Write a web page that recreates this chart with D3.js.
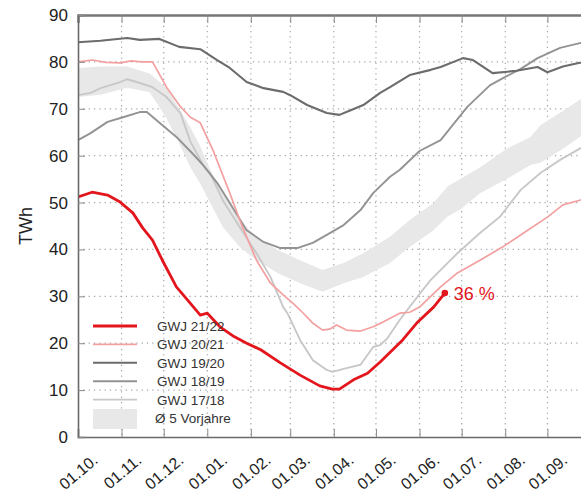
<!DOCTYPE html>
<html>
<head>
<meta charset="utf-8">
<script src="https://cdn.jsdelivr.net/npm/d3@7"></script>
<style>
  body { margin: 0; background: #fff; }
  text { font-family: "Liberation Sans", Arial, sans-serif; }
</style>
</head>
<body>
<svg id="chart" width="581" height="491"></svg>
<script>
// days since 01.10., storage in TWh
const monthTicks = [0, 31, 61, 92, 123, 151, 182, 212, 243, 273, 304, 334];
const monthLabels = ["01.10.", "01.11.", "01.12.", "01.01.", "01.02.", "01.03.",
                     "01.04.", "01.05.", "01.06.", "01.07.", "01.08.", "01.09."];
const yTicks = [0, 10, 20, 30, 40, 50, 60, 70, 80, 90];

const gwj2122 = [[0,51.2],[10,52.2],[21,51.6],[30,50.1],[39,47.8],[46,44.6],[53,42],[60,37.7],
  [70,32],[78,29.2],[87,26],[92,26.4],[101,23.5],[110,21.6],[120,20],[130,18.6],[144,15.8],
  [158,13.2],[172,10.9],[181,10.2],[186,10.2],[196,12.2],[206,13.6],[215,16],[231,20.7],
  [241,24.3],[253,27.7],[261,30.7]];

const gwj2021 = [[0,80],[10,80.4],[20,79.9],[30,79.8],[38,80.2],[45,80],[53,80],[63,74.6],
  [73,70.4],[80,68.2],[87,67],[96,61.2],[108,52],[117,44.8],[127,37.7],[137,32.8],[146,30.3],
  [153,28.5],[160,26.5],[167,24.3],[174,22.8],[179,23],[184,23.9],[191,22.8],[201,22.6],
  [210,23.5],[217,24.5],[229,26.4],[236,26.6],[243,27.7],[258,32],[270,35],[286,37.7],
  [302,40.5],[317,43.5],[334,46.9],[345,49.5],[357,50.5],[365,51]];

const gwj1920 = [[0,84.2],[16,84.5],[35,85.1],[44,84.7],[58,84.9],[72,83.2],[87,82.7],
  [99,80.4],[108,78.7],[120,75.7],[132,74.4],[146,73.6],[151,72.9],[163,70.8],[177,69.1],
  [186,68.7],[194,69.7],[203,70.8],[215,73.4],[222,74.6],[236,77.2],[251,78.3],[258,78.9],
  [274,80.8],[281,80.4],[295,77.6],[312,78.1],[327,78.9],[334,77.8],[345,79],[357,79.8],[365,80]];

const gwj1819 = [[0,63.3],[9,64.8],[21,67.2],[32,68.2],[44,69.3],[49,69.3],[58,67],[70,64],
  [82,60.3],[89,58],[99,54.2],[108,49.9],[120,44.1],[132,41.6],[144,40.3],[156,40.3],
  [167,41.4],[177,43.1],[189,45.2],[201,48.4],[210,52],[222,55.5],[229,57],[243,61],
  [258,63.3],[277,70.4],[293,75],[304,76.8],[315,78.5],[327,80.8],[343,83],[357,84],[365,84.3]];

const gwj1718 = [[0,72.9],[9,73.4],[16,74.4],[30,75.7],[35,76.3],[44,75.5],[53,74.6],
  [63,72.5],[73,69],[80,63],[89,58],[94,56.3],[103,50.5],[115,44.8],[127,39.2],[137,34.1],
  [146,27.7],[149,26.4],[158,20.7],[167,16.4],[177,14.3],[181,13.9],[191,14.7],[201,15.4],
  [210,19.2],[215,19.6],[220,21],[229,25],[243,30.5],[251,33.5],[270,39.2],[286,43.5],
  [300,46.9],[315,52.7],[329,56.3],[343,59.1],[357,61.5],[365,62.5]];

// Ø 5 Vorjahre band: [day, low, high]
const avgBand = [[0,72.5,78.7],[16,73,79],[35,74.5,79],[51,73.5,77.5],[63,68,74.5],
  [73,62,69.5],[80,57.5,66],[87,54,62],[94,50,57],[103,44.8,52],[115,40.5,46.3],
  [127,37.7,42.7],[142,35,39.9],[158,32.8,37.7],[174,31,35.6],[189,32.8,37.1],
  [203,34.1,39.2],[222,37.1,42.7],[236,40.5,46.3],[253,44.1,49.9],[263,47,53.5],
  [272,48.5,55],[286,52,57.5],[305,55,61.5],[322,58,64],[329,58.5,66.5],[345,61.5,69.5],
  [357,64,71.9],[365,65,73]];

const series = [
  { name: "GWJ 21/22", data: gwj2122, color: "#e3161d", width: 2.8 },
  { name: "GWJ 20/21", data: gwj2021, color: "#f3a0a0", width: 1.7 },
  { name: "GWJ 19/20", data: gwj1920, color: "#6c6c6c", width: 2.1 },
  { name: "GWJ 18/19", data: gwj1819, color: "#939393", width: 1.9 },
  { name: "GWJ 17/18", data: gwj1718, color: "#c8c8c8", width: 1.9 }
];

const svg = d3.select("#chart");
const mLeft = 78, mTop = 15, mBottom = 437, mRight = 591;

const x = d3.scaleLinear().domain([0, 365]).range([mLeft, mRight]);
const y = d3.scaleLinear().domain([0, 90]).range([mBottom, mTop]);

svg.append("defs").append("clipPath").attr("id", "plot")
  .append("rect").attr("x", mLeft).attr("y", mTop).attr("width", mRight - mLeft).attr("height", mBottom - mTop);

// grid
const grid = svg.append("g").attr("stroke", "#a8a8a8").attr("stroke-dasharray", "1.3,4").attr("stroke-width", 1.2);
grid.selectAll(".gx").data(monthTicks.slice(1)).join("line")
  .attr("x1", d => x(d)).attr("x2", d => x(d)).attr("y1", mTop).attr("y2", mBottom);
grid.selectAll(".gy").data(yTicks.slice(1, -1)).join("line")
  .attr("x1", mLeft).attr("x2", mRight).attr("y1", d => y(d)).attr("y2", d => y(d));

const plot = svg.append("g").attr("clip-path", "url(#plot)");

plot.append("path").datum(avgBand)
  .attr("fill", "#e8e8e8")
  .attr("d", d3.area().x(d => x(d[0])).y0(d => y(d[1])).y1(d => y(d[2])));

const line = d3.line().x(d => x(d[0])).y(d => y(d[1]));
plot.selectAll(".series").data(series.slice().reverse()).join("path")
  .attr("fill", "none")
  .attr("stroke", d => d.color)
  .attr("stroke-width", d => d.width)
  .attr("stroke-linejoin", "round")
  .attr("d", d => line(d.data));

// end marker of current year
const last = gwj2122[gwj2122.length - 1];
svg.append("circle").attr("cx", x(last[0])).attr("cy", y(last[1])).attr("r", 3.3).attr("fill", "#e3161d");
svg.append("text").attr("x", x(last[0]) + 9).attr("y", y(last[1]) + 6.5)
  .attr("fill", "#e3161d").attr("font-size", 18).text("36 %");

// axes
const xAxisB = d3.axisBottom(x).tickValues(monthTicks).tickSize(-8).tickFormat("");
const xAxisT = d3.axisTop(x).tickValues(monthTicks).tickSize(-8).tickFormat("");
const yAxis = d3.axisLeft(y).tickValues(yTicks).tickSize(-7).tickPadding(10);

const gb = svg.append("g").attr("transform", `translate(0,${mBottom})`).call(xAxisB);
const gt = svg.append("g").attr("transform", `translate(0,${mTop})`).call(xAxisT);
const gl = svg.append("g").attr("transform", `translate(${mLeft},0)`).call(yAxis);

[gb, gt, gl].forEach(g => {
  g.select(".domain").attr("stroke", "#6a6a6a").attr("stroke-width", 1.6);
  g.selectAll(".tick line").attr("stroke", "#8a8a8a");
});
gt.select(".domain").attr("stroke-width", 2.4).attr("stroke", "#777");
gl.selectAll(".tick text").attr("font-size", 17).attr("fill", "#222")
  .attr("font-family", "'Liberation Sans', Arial, sans-serif");

// rotated month labels
svg.append("g").selectAll("text").data(monthTicks).join("text")
  .attr("transform", d => `translate(${x(d) + 21},${mBottom + 25}) rotate(-40)`)
  .attr("text-anchor", "end")
  .attr("font-size", 16).attr("fill", "#222")
  .text((d, i) => monthLabels[i]);

svg.append("text")
  .attr("transform", `translate(32,226) rotate(-90)`)
  .attr("text-anchor", "middle").attr("font-size", 18).attr("fill", "#222")
  .text("TWh");

// legend
const legend = svg.append("g");
const ly = d3.scaleLinear().domain([0, 5]).range([326, 418]);
series.forEach((s, i) => {
  legend.append("line")
    .attr("x1", 93).attr("x2", 137).attr("y1", ly(i)).attr("y2", ly(i))
    .attr("stroke", s.color).attr("stroke-width", s.width);
  legend.append("text").attr("x", 157).attr("y", ly(i) + 5)
    .attr("font-size", 13.5).attr("fill", "#333").text(s.name);
});
legend.append("rect").attr("x", 93).attr("y", ly(5) - 9).attr("width", 44).attr("height", 20)
  .attr("fill", "#e8e8e8");
legend.append("text").attr("x", 155).attr("y", ly(5) + 5)
  .attr("font-size", 13.5).attr("fill", "#333").text("Ø 5 Vorjahre");
</script>
</body>
</html>
